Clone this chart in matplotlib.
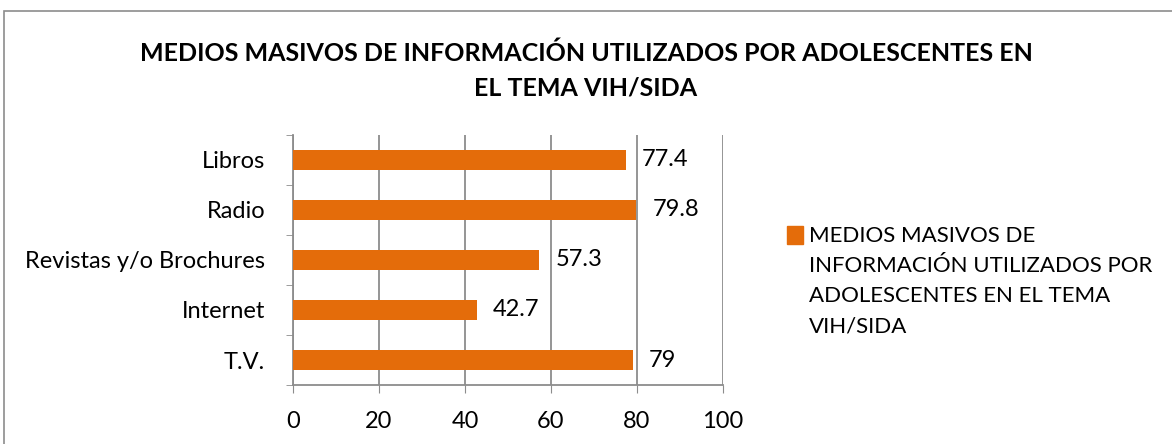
import numpy as np
import matplotlib
matplotlib.use("Agg")
import matplotlib.pyplot as plt
from matplotlib.patches import Rectangle

categorias = ["T.V.", "Internet", "Revistas y/o Brochures", "Radio", "Libros"]
valores = [79, 42.7, 57.3, 79.8, 77.4]
etiquetas = ["79", "42.7", "57.3", "79.8", "77.4"]
serie = "MEDIOS MASIVOS DE\nINFORMACIÓN UTILIZADOS POR\nADOLESCENTES EN EL TEMA\nVIH/SIDA"
titulo = "MEDIOS MASIVOS DE INFORMACIÓN UTILIZADOS POR ADOLESCENTES EN\nEL TEMA VIH/SIDA"
xticks = [0, 20, 40, 60, 80, 100]

naranja = "#E46C0A"
gris = "#8C8C8C"
plt.rcParams['font.family'] = ['Lato', 'DejaVu Sans']

fig = plt.figure(figsize=(11.72, 4.44), dpi=100)
fig.patches.append(Rectangle((4 / 1172, -0.05), 1.2, 1 - 11 / 444 + 0.05, transform=fig.transFigure,
                             fill=False, edgecolor=gris, lw=1.2))
ax = fig.add_axes([293 / 1172, 59 / 444, 430 / 1172, 250 / 444])

y = np.arange(len(categorias))
ax.barh(y, valores, height=0.4, color=naranja, zorder=3)
for yi, v, t in zip(y, valores, etiquetas):
    ax.text(v + 3.8, yi, t, va='center', ha='left', fontsize=17)

ax.set_xlim(0, 100)
ax.set_ylim(-0.5, len(categorias) - 0.5)
ax.set_xticks(xticks)
ax.tick_params(axis='x', length=6, color=gris, labelsize=17, pad=13)
ax.set_yticks(y)
ax.set_yticklabels(categorias, fontsize=17)
ax.tick_params(axis='y', length=0, pad=20)
ax.set_yticks(np.arange(-0.5, len(categorias), 1), minor=True)
ax.tick_params(axis='y', which='minor', length=5, color=gris)
ax.xaxis.grid(True, color=gris, lw=1.3, zorder=0)
for s in ['top', 'right']:
    ax.spines[s].set_visible(False)
for s in ['left', 'bottom']:
    ax.spines[s].set_color(gris)
    ax.spines[s].set_linewidth(1.3)

fig.text(0.5, 1 - 70.5 / 444, titulo, ha='center', va='center', fontsize=18,
         fontweight='bold', linespacing=1.64)

leg = ax.legend([Rectangle((0, 0), 1, 1, color=naranja)], [serie], loc='upper left',
                bbox_to_anchor=(787 / 1172, 1 - 226 / 444), bbox_transform=fig.transFigure,
                frameon=False, fontsize=16, handlelength=0.7, handleheight=0.85,
                handletextpad=0.3, borderaxespad=0, borderpad=0)
for t in leg.get_texts():
    t.set_linespacing(1.63)
for col in leg._legend_handle_box.get_children():
    for fila in col.get_children():
        fila.align = 'top'

fig.savefig("out.png", dpi=100)
